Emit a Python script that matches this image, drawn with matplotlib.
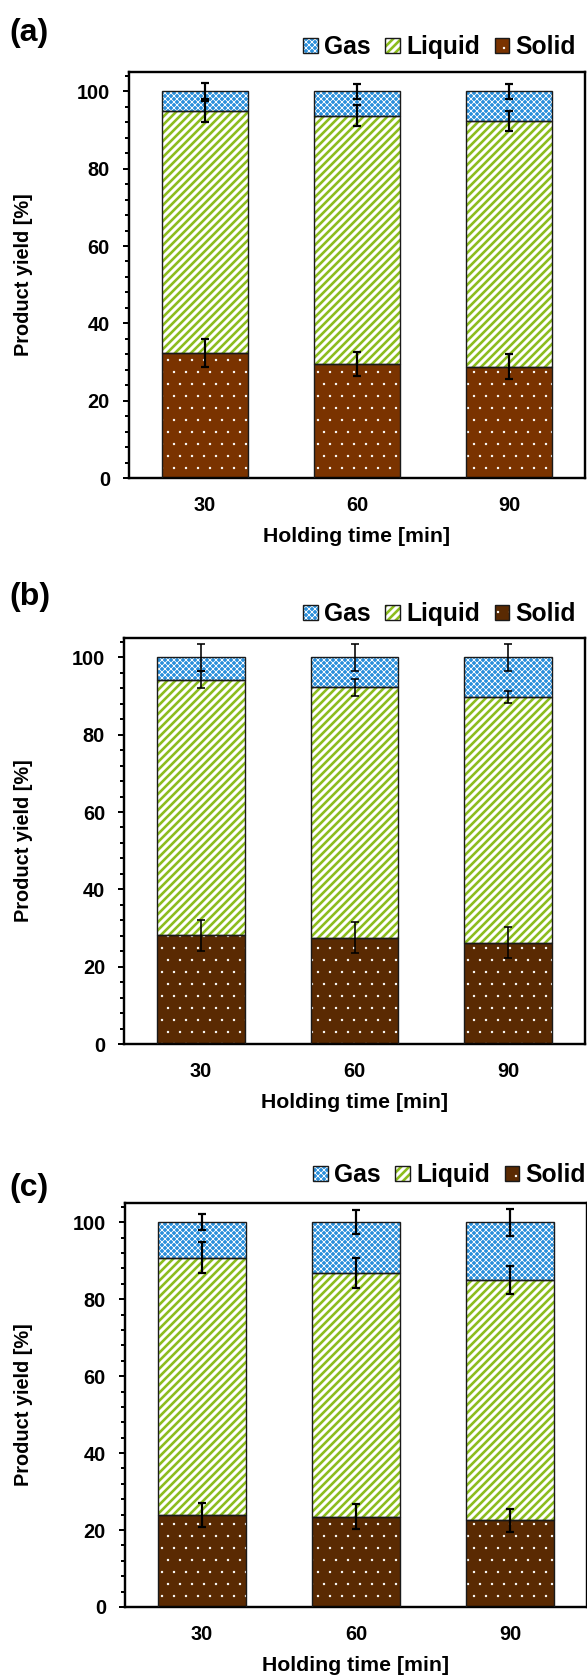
import matplotlib
matplotlib.use('Agg')
import matplotlib.pyplot as plt
import numpy as np
from matplotlib.patches import Patch
from matplotlib.legend_handler import HandlerTuple
from matplotlib.ticker import MultipleLocator

plt.rcParams['font.family'] = ['Liberation Sans', 'DejaVu Sans']
plt.rcParams['font.weight'] = 'bold'
plt.rcParams['axes.labelweight'] = 'bold'

times = ['30', '60', '90']
panel_names = ['(a)', '(b)', '(c)']

# panel (a)
solid_a = [32.4, 29.5, 28.8]
liquid_a = [62.4, 64.2, 63.5]
gas_a = [5.2, 6.3, 7.7]
solid_err_a = [3.6, 3.2, 3.3]
liquid_err_a = [2.8, 2.7, 2.6]
gas_err_a = [2.1, 2.0, 2.0]

# panel (b)
solid_b = [28.1, 27.5, 26.2]
liquid_b = [66.1, 64.7, 63.5]
gas_b = [5.8, 7.8, 10.3]
solid_err_b = [4.0, 4.0, 4.0]
liquid_err_b = [2.2, 2.2, 1.6]
gas_err_b = [3.5, 3.5, 3.5]

# panel (c)
solid_c = [24.0, 23.5, 22.5]
liquid_c = [66.8, 63.3, 62.5]
gas_c = [9.2, 13.2, 15.0]
solid_err_c = [3.1, 3.2, 3.1]
liquid_err_c = [4.1, 3.8, 3.7]
gas_err_c = [2.1, 3.1, 3.5]

W, H, DPI = 587, 1675, 144
GAS_BLUE = '#2a8fdb'
LIQ_GREEN = '#8cbd1e'
SOLID_A = '#7a3300'
SOLID_BC = '#5a2a02'

# hatch styles: (face, hatch colour, hatch, hatch linewidth)
GAS_STYLE = (GAS_BLUE, 'white', 'xxxxxxxx', 0.4)
LIQ_STYLE = ('white', LIQ_GREEN, '//////', 1.3)
HATCH_LW = {'xxxxxxxx': 0.4, '//////': 1.3, '..': 0.0}


def set_hlw(patches):
    for p in patches:
        h = p.get_hatch()
        if h in HATCH_LW and hasattr(p, 'set_hatch_linewidth'):
            p.set_hatch_linewidth(HATCH_LW[h])


def hatched_bar(ax, x, h, bottom, style):
    face, hcolor, hatch, hlw = style
    plt.rcParams['hatch.linewidth'] = hlw
    bars = ax.bar(x, h, 0.57, bottom=bottom, color=face, edgecolor=hcolor,
                  hatch=hatch, linewidth=0, zorder=2)
    set_hlw(bars)
    ax.bar(x, h, 0.57, bottom=bottom, fill=False, edgecolor='#1a1a1a',
           linewidth=0.7, zorder=3)


def legend_handle(style):
    face, hcolor, hatch, hlw = style
    p = Patch(facecolor=face, edgecolor=hcolor, hatch=hatch, linewidth=0)
    return (p, Patch(fill=False, edgecolor='#1a1a1a', linewidth=0.7))


def ax_rect(left, right, top, bottom):
    return [left / W, 1 - bottom / H, (right - left) / W, (bottom - top) / H]


fig = plt.figure(figsize=(W / DPI, H / DPI), dpi=DPI)

panels = [
    (solid_a, liquid_a, gas_a, solid_err_a, liquid_err_a, gas_err_a, SOLID_A,
     ax_rect(129, 585, 72, 478), (9, 33), (576, 47)),
    (solid_b, liquid_b, gas_b, solid_err_b, liquid_err_b, gas_err_b, SOLID_BC,
     ax_rect(124, 585, 638, 1044), (9, 597), (576, 614)),
    (solid_c, liquid_c, gas_c, solid_err_c, liquid_err_c, gas_err_c, SOLID_BC,
     ax_rect(125, 587, 1203, 1607), (9, 1188), (586, 1175)),
]

for i, (solid, liquid, gas, se, le, ge, scol, rect, lab_xy, leg_xy) in enumerate(panels):
    ax = fig.add_axes(rect)
    x = np.arange(len(times))
    solid = np.array(solid)
    liquid = np.array(liquid)
    gas = np.array(gas)
    solid_style = (scol, 'white', '..', 0.0)

    hatched_bar(ax, x, solid, 0, solid_style)
    hatched_bar(ax, x, liquid, solid, LIQ_STYLE)
    hatched_bar(ax, x, gas, solid + liquid, GAS_STYLE)

    elw = 0.8 if i == 1 else 1.1
    tops = [solid, solid + liquid, solid + liquid + gas]
    for top, err in zip(tops, [se, le, ge]):
        ax.errorbar(x, top, yerr=err, fmt='none', ecolor='black',
                    elinewidth=elw, capsize=2.2, capthick=elw, zorder=4)

    ax.set_xlim(-0.5, 2.5)
    ax.set_ylim(0, 105)
    ax.set_xticks(x)
    ax.set_xticklabels(times)
    ax.yaxis.set_major_locator(MultipleLocator(20))
    ax.yaxis.set_minor_locator(MultipleLocator(4))
    ax.tick_params(axis='x', length=0, pad=9, labelsize=10)
    ax.tick_params(axis='y', which='major', length=3, width=1, pad=6.5,
                   labelsize=10)
    ax.tick_params(axis='y', which='minor', length=2, width=1)
    for s in ax.spines.values():
        s.set_linewidth(1.2)
    ax.set_xlabel('Holding time [min]', fontsize=10.6, labelpad=6)

    cy = (rect[1] + rect[3] / 2)
    fig.text(24 / W, cy, 'Product yield [%]', rotation=90, ha='center',
             va='center', fontsize=10)
    fig.text(lab_xy[0] / W, 1 - lab_xy[1] / H, panel_names[i], ha='left',
             va='center', fontsize=16)

    handles = [legend_handle(GAS_STYLE), legend_handle(LIQ_STYLE),
               legend_handle(solid_style)]
    leg = fig.legend(handles, ['Gas', 'Liquid', 'Solid'], ncol=3,
                     handler_map={tuple: HandlerTuple(ndivide=1, pad=0)},
                     loc='center right',
                     bbox_to_anchor=(leg_xy[0] / W, 1 - leg_xy[1] / H),
                     frameon=False, fontsize=12.3, handlelength=0.6,
                     handleheight=0.6, handletextpad=0.25, columnspacing=0.6,
                     borderpad=0, borderaxespad=0)
    set_hlw(leg.get_patches())

fig.savefig('out.png', dpi=DPI)
